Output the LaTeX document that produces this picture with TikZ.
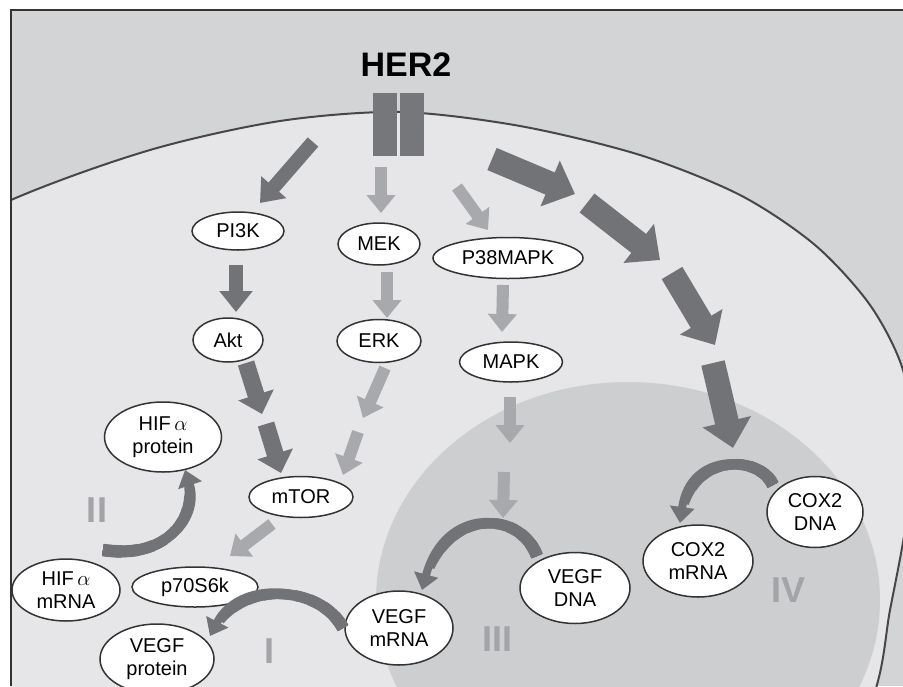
\documentclass[tikz,border=0pt]{standalone}
\usepackage{fontspec}
\setmainfont{Liberation Sans}
\usetikzlibrary{shapes.geometric,arrows.meta,calc}
\definecolor{outbg}{HTML}{D3D4D6}
\definecolor{cellc}{HTML}{E6E6E8}
\definecolor{nuc}{HTML}{CDCED0}
\definecolor{darka}{HTML}{727377}
\definecolor{lighta}{HTML}{A8A9AD}
\definecolor{rom}{HTML}{A2A4A8}
\definecolor{memb}{HTML}{474747}
\definecolor{recep}{HTML}{76777B}
\newcommand\taperarc[4]{%
  \foreach \tv/\wv in {0.1/12.5, 0.2/12, 0.3/11.5, 0.4/11, 0.5/10.5, 0.6/10, 0.7/9.5, 0.8/9, 0.9/8.5}{%
    \path ($(#1)!\tv!(#2)$) coordinate (tA)
          ($(#2)!\tv!(#3)$) coordinate (tB)
          ($(#3)!\tv!(#4)$) coordinate (tC);
    \path ($(tA)!\tv!(tB)$) coordinate (tD)
          ($(tB)!\tv!(tC)$) coordinate (tE);
    \path ($(tD)!\tv!(tE)$) coordinate (tF);
    \draw[darka, line width=\wv pt] (#1) .. controls (tA) and (tD) .. (tF);
  }%
  \draw[curvarr] (#1) .. controls (#2) and (#3) .. (#4);
}
\begin{document}
\begin{tikzpicture}[x=1pt,y=-1pt,
  mol/.style={ellipse, draw=black!80, line width=1.5pt, fill=white, inner sep=0pt,
    font=\fontsize{20}{23}\selectfont, align=center},
  lightarr/.style={draw=lighta, line width=12pt, -{Triangle[width=28pt,length=18pt]}},
  darkarr/.style={draw=darka, line width=14pt, -{Triangle[width=32pt,length=21pt]}},
  midarr/.style={draw=darka, line width=17pt, -{Triangle[width=36pt,length=20pt]}},
  bigarr/.style={draw=darka, line width=24pt, -{Triangle[width=48pt,length=27pt]}},
  curvarr/.style={draw=darka, line width=8pt, -{Triangle[width=24pt,length=16pt]}},
  roman/.style={text=rom, font=\fontsize{36}{36}\selectfont\bfseries, inner sep=0pt}
]
\useasboundingbox (0,0) rectangle (903,686);
\fill[white] (0,0) rectangle (903,686);
\begin{scope}
  \clip (11,10) rectangle (903,686);
  \fill[outbg] (11,10) rectangle (903,686);
  \fill[cellc] plot[smooth cycle] coordinates {(-150,280) (11,200) (150,150) (280,121) (400,112) (520,126) (640,155) (740,195) (815,245) (870,305) (903,370) (914,450) (905,530) (890,610) (872,700) (800,850) (400,950) (-150,800)};
  \fill[nuc] (628,600) ellipse [x radius=252, y radius=218];
  \draw[memb, line width=2pt] plot[smooth cycle] coordinates {(-150,280) (11,200) (150,150) (280,121) (400,112) (520,126) (640,155) (740,195) (815,245) (870,305) (903,370) (914,450) (905,530) (890,610) (872,700) (800,850) (400,950) (-150,800)};
\end{scope}
\draw[black!80, line width=1.5pt] (11,686) -- (11,10) -- (903,10);

% receptor
\node[font=\fontsize{34}{34}\selectfont\bfseries, inner sep=0pt] (her2) at (406,65) {HER2};
\fill[recep] (373,93) rectangle (397,156);
\fill[recep] (400,93) rectangle (424,156);

% molecules
\node[mol, minimum width=92pt, minimum height=38pt] (pi3k) at (238,231) {PI3K};
\node[mol, minimum width=82pt, minimum height=42pt] (mek) at (379,244) {MEK};
\node[mol, minimum width=150pt, minimum height=41pt] (p38) at (508,258) {P38MAPK};
\node[mol, minimum width=70pt, minimum height=44pt] (akt) at (228,340) {Akt};
\node[mol, minimum width=84pt, minimum height=43pt] (erk) at (379,341) {ERK};
\node[mol, minimum width=103pt, minimum height=40pt] (mapk) at (511,362) {MAPK};
\node[mol, minimum width=117pt, minimum height=70pt] (hifp) at (163,437) {HIF\,$\alpha$\\protein};
\node[mol, minimum width=104pt, minimum height=41pt] (mtor) at (301,497) {mTOR};
\node[mol, minimum width=126pt, minimum height=40pt] (p70) at (195,587) {p70S6k};
\node[mol, minimum width=108pt, minimum height=62pt] (hifm) at (66,590) {HIF\,$\alpha$\\mRNA};
\node[mol, minimum width=114pt, minimum height=70pt] (vegfp) at (157,659) {VEGF\\protein};
\node[mol, minimum width=108pt, minimum height=74pt] (vegfm) at (399,628) {VEGF\\mRNA};
\node[mol, minimum width=110pt, minimum height=71pt] (vegfd) at (575,588) {VEGF\\DNA};
\node[mol, minimum width=110pt, minimum height=72pt] (coxm) at (698,561) {COX2\\mRNA};
\node[mol, minimum width=96pt, minimum height=71pt] (coxd) at (815,512) {COX2\\DNA};

% roman labels
\node[roman] (lI) at (269,651) {I};
\node[roman] (lII) at (97,510) {II};
\node[roman] (lIII) at (497,639) {III};
\node[roman] (lIV) at (788,590) {IV};

% arrow end points
\coordinate (a1s) at (313,142); \coordinate (a1e) at (260,203);
\coordinate (a2s) at (381,167); \coordinate (a2e) at (381,213);
\coordinate (a3s) at (457,187); \coordinate (a3e) at (488,230);
\coordinate (b1s) at (492,159); \coordinate (b1e) at (575,194);
\coordinate (b2s) at (587,203); \coordinate (b2e) at (660,260);
\coordinate (b3s) at (672,273); \coordinate (b3e) at (715,345);
\coordinate (b4s) at (713,363); \coordinate (b4e) at (733,448);
\coordinate (c1s) at (236,265); \coordinate (c1e) at (236,312);
\coordinate (c2s) at (387,272); \coordinate (c2e) at (387,318);
\coordinate (d1s) at (246,363); \coordinate (d1e) at (262,414);
\coordinate (d2s) at (266,424); \coordinate (d2e) at (281,473);
\coordinate (e1s) at (385,368); \coordinate (e1e) at (363,418);
\coordinate (e2s) at (358,432); \coordinate (e2e) at (343,475);
\coordinate (f1s) at (503,285); \coordinate (f1e) at (502,332);
\coordinate (g1s) at (510,397); \coordinate (g1e) at (510,443);
\coordinate (g2s) at (504,472); \coordinate (g2e) at (503,518);
\coordinate (h1s) at (272,524); \coordinate (h1e) at (230,556);

% straight arrows
\draw[darkarr] (a1s) -- (a1e);
\draw[lightarr] (a2s) -- (a2e);
\draw[lightarr] (a3s) -- (a3e);
\draw[bigarr] (b1s) -- (b1e);
\draw[bigarr] (b2s) -- (b2e);
\draw[bigarr] (b3s) -- (b3e);
\draw[bigarr] (b4s) -- (b4e);
\draw[darkarr] (c1s) -- (c1e);
\draw[lightarr] (c2s) -- (c2e);
\draw[midarr] (d1s) -- (d1e);
\draw[midarr] (d2s) -- (d2e);
\draw[lightarr] (e1s) -- (e1e);
\draw[lightarr] (e2s) -- (e2e);
\draw[lightarr] (f1s) -- (f1e);
\draw[lightarr] (g1s) -- (g1e);
\draw[lightarr] (g2s) -- (g2e);
\draw[lightarr] (h1s) -- (h1e);

% curved arrows (tapered)
\coordinate (iS) at (343,628); \coordinate (iC1) at (320,585); \coordinate (iC2) at (240,578); \coordinate (iE) at (210,636);
\coordinate (iiS) at (103,550); \coordinate (iiC1) at (170,560); \coordinate (iiC2) at (200,515); \coordinate (iiE) at (185,470);
\coordinate (iiiS) at (537,556); \coordinate (iiiC1) at (520,510); \coordinate (iiiC2) at (445,505); \coordinate (iiiE) at (422,590);
\coordinate (ivS) at (773,485); \coordinate (ivC1) at (760,455); \coordinate (ivC2) at (690,450); \coordinate (ivE) at (680,523);
\taperarc{iS}{iC1}{iC2}{iE}
\taperarc{iiS}{iiC1}{iiC2}{iiE}
\taperarc{iiiS}{iiiC1}{iiiC2}{iiiE}
\taperarc{ivS}{ivC1}{ivC2}{ivE}
\end{tikzpicture}
\end{document}
